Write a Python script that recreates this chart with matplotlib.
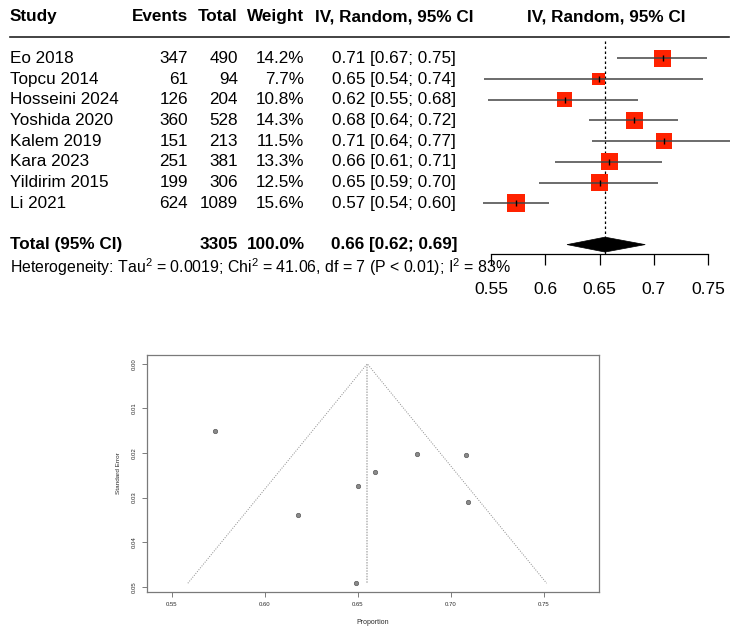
import matplotlib
matplotlib.use("Agg")
import matplotlib.pyplot as plt
from matplotlib import transforms
from matplotlib.patches import Polygon

plt.rcParams['font.family'] = ['Liberation Sans', 'DejaVu Sans']
plt.rcParams['mathtext.fontset'] = 'custom'
plt.rcParams['mathtext.rm'] = 'Liberation Sans'
plt.rcParams['mathtext.it'] = 'Liberation Sans:italic'
plt.rcParams['mathtext.bf'] = 'Liberation Sans:bold'

# ---------------- data ----------------
studies = ["Eo 2018", "Topcu 2014", "Hosseini 2024", "Yoshida 2020",
           "Kalem 2019", "Kara 2023", "Yildirim 2015", "Li 2021"]
events = [347, 61, 126, 360, 151, 251, 199, 624]
totals = [490, 94, 204, 528, 213, 381, 306, 1089]
weights = [14.2, 7.7, 10.8, 14.3, 11.5, 13.3, 12.5, 15.6]
ci_text = ["0.71 [0.67; 0.75]", "0.65 [0.54; 0.74]", "0.62 [0.55; 0.68]",
           "0.68 [0.64; 0.72]", "0.71 [0.64; 0.77]", "0.66 [0.61; 0.71]",
           "0.65 [0.59; 0.70]", "0.57 [0.54; 0.60]"]
proportions = [0.708, 0.649, 0.618, 0.682, 0.709, 0.659, 0.650, 0.573]
ci_lower = [0.666, 0.544, 0.547, 0.640, 0.643, 0.609, 0.594, 0.543]
ci_upper = [0.749, 0.745, 0.685, 0.722, 0.770, 0.707, 0.704, 0.603]
std_errors = [0.0205, 0.0492, 0.0340, 0.0203, 0.0311, 0.0243, 0.0273, 0.0150]

pooled_est = 0.655
pooled_lower = 0.620
pooled_upper = 0.692
total_n = "3305"
total_weight = "100.0%"
total_ci_text = "0.66 [0.62; 0.69]"
heterogeneity = ("Heterogeneity: Tau$^{2}$ = 0.0019; Chi$^{2}$ = 41.06, "
                 "df = 7 (P < 0.01); I$^{2}$ = 83%")

forest_ticks = [0.55, 0.60, 0.65, 0.70, 0.75]
forest_ticklabels = ["0.55", "0.6", "0.65", "0.7", "0.75"]
funnel_xticks = [0.55, 0.60, 0.65, 0.70, 0.75]
funnel_xticklabels = ["0.55", "0.60", "0.65", "0.70", "0.75"]
funnel_yticks = [0.00, 0.01, 0.02, 0.03, 0.04, 0.05]
funnel_yticklabels = ["0.00", "0.01", "0.02", "0.03", "0.04", "0.05"]

# ---------------- figure ----------------
W, H = 739, 632
fig = plt.figure(figsize=(W / 100, H / 100), dpi=100)
fig.patch.set_facecolor("white")

# forest panel axes: spans full width of top 300 px
top_h = 300
ax = fig.add_axes([0, 1 - top_h / H, 1, top_h / H])
scale = 1086.0            # px per unit
x0 = 0.55 - 491 / scale
x1 = 0.55 + (W - 491) / scale
ax.set_xlim(x0, x1)
row_px = 20.7
r_top = (0 - 58.3) / row_px + 1
r_bot = (top_h - 58.3) / row_px + 1
ax.set_ylim(r_bot, r_top)
ax.set_facecolor("none")
for s in ["top", "left", "right"]:
    ax.spines[s].set_visible(False)
ax.spines["bottom"].set_position(("data", 10.47))
ax.spines["bottom"].set_bounds(0.55, 0.75)
ax.spines["bottom"].set_linewidth(0.9)
ax.set_yticks([])
ax.set_xticks(forest_ticks)
ax.set_xticklabels(forest_ticklabels, fontsize=12.5)
ax.tick_params(axis="x", direction="out", length=7.7, width=0.9, pad=12)

tr = transforms.blended_transform_factory(fig.transFigure, ax.transData)
def px(p):
    return p / W

rows = list(range(1, len(studies) + 1))
fs = 12.3
# header
hdr_y = -1.0
ax.text(px(10), hdr_y, "Study", transform=tr, fontsize=fs, fontweight="bold", va="center", ha="left")
ax.text(px(188), hdr_y, "Events", transform=tr, fontsize=fs, fontweight="bold", va="center", ha="right")
ax.text(px(238), hdr_y, "Total", transform=tr, fontsize=fs, fontweight="bold", va="center", ha="right")
ax.text(px(304.5), hdr_y, "Weight", transform=tr, fontsize=fs, fontweight="bold", va="center", ha="right")
ax.text(px(394), hdr_y, "IV, Random, 95% CI", transform=tr, fontsize=fs, fontweight="bold", va="center", ha="center")
ax.text(px(606), hdr_y, "IV, Random, 95% CI", transform=tr, fontsize=fs, fontweight="bold", va="center", ha="center")
ax.plot([px(10), px(729)], [-0.04, -0.04], transform=tr, color="#222222", lw=1.2, clip_on=False)

for r, st, ev, tot, w, ct in zip(rows, studies, events, totals, weights, ci_text):
    ax.text(px(10), r, st, transform=tr, fontsize=fs, va="center", ha="left")
    ax.text(px(188), r, str(ev), transform=tr, fontsize=fs, va="center", ha="right")
    ax.text(px(238), r, str(tot), transform=tr, fontsize=fs, va="center", ha="right")
    ax.text(px(304.5), r, f"{w:.1f}%", transform=tr, fontsize=fs, va="center", ha="right")
    ax.text(px(394), r, ct, transform=tr, fontsize=fs, va="center", ha="center")

tot_y = 10.0
ax.text(px(10), tot_y, "Total (95% CI)", transform=tr, fontsize=fs, fontweight="bold", va="center", ha="left")
ax.text(px(238), tot_y, total_n, transform=tr, fontsize=fs, fontweight="bold", va="center", ha="right")
ax.text(px(304.5), tot_y, total_weight, transform=tr, fontsize=fs, fontweight="bold", va="center", ha="right")
ax.text(px(394), tot_y, total_ci_text, transform=tr, fontsize=fs, fontweight="bold", va="center", ha="center")
ax.text(px(10), 11.08, heterogeneity, transform=tr, fontsize=11.45, va="center", ha="left")

# reference line
ax.plot([pooled_est, pooled_est], [0.15, 10.45], color="black", lw=0.9, ls=(0, (2, 2)), zorder=1)

# squares, CI lines, point ticks
sizes = [11.2 * w for w in weights]
ax.scatter(proportions, rows, s=sizes, marker="s", color="#ff2200", edgecolors="none", zorder=2)
ax.hlines(rows, ci_lower, ci_upper, color="#444444", lw=1.1, zorder=3, clip_on=False)
ax.scatter(proportions, rows, s=20, marker="|", color="black", linewidths=1.0, zorder=4)

# diamond
dh = 0.36
diamond = Polygon([(pooled_lower, tot_y), (pooled_est, tot_y - dh),
                   (pooled_upper, tot_y), (pooled_est, tot_y + dh)],
                  closed=True, facecolor="black", edgecolor="black", lw=0.5, zorder=3)
ax.add_patch(diamond)

# ---------------- funnel plot ----------------
fx0, fx1 = 147, 599
fy0, fy1 = 355, 592
ax2 = fig.add_axes([fx0 / W, 1 - fy1 / H, (fx1 - fx0) / W, (fy1 - fy0) / H])
se_max = max(std_errors)
ax2.set_xlim(0.5366, 0.7796)
ax2.set_ylim(se_max * 1.04, -0.04 * se_max)
for s in ax2.spines.values():
    s.set_color("#7a7a7a")
    s.set_linewidth(0.9)
ax2.set_xticks(funnel_xticks)
ax2.set_xticklabels(funnel_xticklabels, fontsize=4.3, color="#2a2a2a")
ax2.set_yticks(funnel_yticks)
ax2.set_yticklabels(funnel_yticklabels, fontsize=4.3, color="#2a2a2a", rotation=90, va="center")
ax2.tick_params(axis="both", direction="out", length=3.6, width=0.6, color="#666666", pad=3.5)
ax2.set_xlabel("Proportion", fontsize=5, color="#2a2a2a", labelpad=9)
ax2.set_ylabel("Standard Error", fontsize=4.6, color="#2a2a2a", labelpad=8)

ax2.plot([pooled_est - 1.96 * se_max, pooled_est, pooled_est + 1.96 * se_max],
         [se_max, 0, se_max], color="#8c8c8c", lw=0.7, ls=(0, (1, 1.5)))
ax2.plot([pooled_est, pooled_est], [0, se_max], color="#b5b5b5", lw=1.1, ls=(0, (1, 0.8)))
ax2.scatter(proportions, std_errors, s=10, facecolor="#8a8a8a", edgecolor="#5a5a5a", linewidths=0.5, zorder=3)

fig.savefig("out.png", dpi=100, facecolor="white")
